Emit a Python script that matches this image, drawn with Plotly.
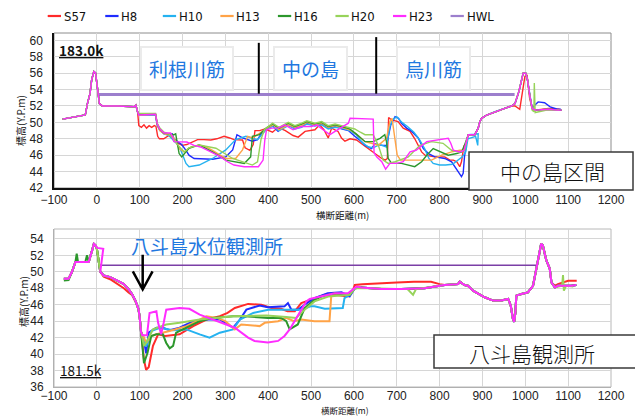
import plotly.graph_objects as go

# ---------------------------------------------------------------------------
# Series definitions
# ---------------------------------------------------------------------------
SERIES = ["S57", "H8", "H10", "H13", "H16", "H20", "H23"]
COLORS = ["#ff2a2a", "#1f2cff", "#25b2f0", "#ffa347", "#2c972c", "#97d35a", "#ff2cff"]
HWL_NAME = "HWL"
HWL_COLOR = "#9c7fcd"
HWL_COLOR_B = "#7b3fa6"

# ---------------------------------------------------------------------------
# Cross section 183.0k  (distance m, elevation Y.P.m)
# ---------------------------------------------------------------------------
BANK_L_183 = [(-80, 50.4), (-60, 50.6), (-40, 50.8), (-27, 50.9), (-22, 52.3), (-16, 53.5),
              (-12, 55.2), (-7, 56.2), (-3, 56.0), (1, 54.4), (6, 52.3), (13, 52.0), (50, 52.0),
              (87, 51.9), (91, 52.1), (95, 51.3)]
BANK_R_183 = [(867, 48.5), (882, 48.5), (890, 49.3), (894, 50.1), (898, 50.5), (910, 50.9),
              (929, 51.3), (952, 51.7), (968, 52.0)]
DIKE_R_183 = [(976, 52.3), (985, 53.75), (995, 56.0), (1001, 56.0), (1005, 55.2), (1011, 53.1),
              (1016, 51.7), (1023, 51.5), (1054, 51.6), (1075, 51.5), (1085, 51.5)]

S57_183 = [(98, 49.6), (104, 49.4), (110, 49.7), (116, 49.3), (122, 49.6), (128, 49.4), (134, 49.6),
           (138, 49.5), (142, 48.3), (146, 48.0), (156, 48.0), (168, 48.4), (176, 48.2), (180, 47.7),
           (190, 47.4), (199, 47.2), (210, 47.3), (219, 47.5), (235, 47.9), (250, 47.9), (266, 47.85),
           (280, 48.0), (297, 48.3), (310, 48.1), (320, 47.9), (340, 47.85), (346, 46.9), (357, 46.6),
           (365, 47.3), (369, 49.0), (380, 49.0), (392, 49.2), (400, 49.0), (410, 48.8), (423, 49.4),
           (440, 49.0), (458, 48.4), (470, 48.2), (486, 48.9), (509, 49.1), (520, 49.7), (530, 49.1),
           (540, 48.1), (548, 49.3), (563, 48.9), (571, 48.1), (579, 47.7), (591, 48.0), (606, 47.85),
           (622, 47.2), (634, 46.8), (649, 46.2), (665, 45.6), (673, 45.4), (678, 45.6), (681, 50.6),
           (688, 50.3), (703, 50.1), (715, 49.3), (731, 48.9), (742, 48.0), (750, 47.2), (758, 46.4),
           (766, 46.0), (789, 45.8), (812, 45.8), (824, 45.4), (832, 45.4), (840, 45.2), (847, 44.6),
           (851, 45.2), (857, 47.2), (860, 46.6), (864, 47.9)]
S57_183_R = [(976, 52.0), (987, 51.6), (993, 53.75), (999, 55.6), (1004, 55.8), (1010, 53.0),
             (1016, 51.7), (1023, 51.5), (1054, 51.7), (1080, 51.6)]

H8_183 = [(98, 50.9), (120, 50.9), (137, 50.9), (141, 49.7), (147, 49.1), (157, 48.6), (168, 48.5),
          (176, 48.6), (180, 48.0), (190, 47.6), (198, 47.3), (208, 46.6), (215, 46.0), (227, 45.6),
          (250, 45.5), (270, 45.5), (301, 45.8), (317, 46.65), (327, 48.5), (340, 48.1), (363, 47.7),
          (375, 47.9), (387, 48.9), (400, 49.3), (410, 49.6), (423, 48.9), (435, 49.4), (447, 49.7),
          (462, 49.3), (478, 49.5), (490, 49.9), (509, 49.6), (525, 49.8), (540, 49.3), (556, 49.5),
          (571, 49.2), (587, 49.0), (602, 48.3), (618, 47.65), (626, 47.2), (641, 46.8), (649, 47.4),
          (665, 47.2), (676, 47.2), (686, 49.7), (696, 50.7), (704, 50.5), (711, 49.9), (723, 49.3),
          (735, 48.9), (750, 48.1), (762, 46.8), (774, 46.2), (789, 45.8), (812, 45.6), (828, 45.2),
          (836, 44.6), (844, 44.0), (851, 43.4), (855, 43.8), (858, 45.8), (864, 48.0)]
H8_183_R = [(976, 52.3), (985, 53.75), (995, 56.0), (1001, 56.0), (1005, 55.2), (1011, 53.1),
            (1016, 51.7), (1022, 52.1), (1030, 52.5), (1045, 52.4), (1058, 51.9), (1075, 51.6),
            (1083, 51.6)]

H10_183 = [(98, 50.9), (137, 50.9), (141, 49.6), (147, 49.0), (157, 48.6), (168, 48.4), (177, 47.9),
           (190, 47.2), (196, 46.6), (208, 45.0), (215, 44.6), (239, 44.8), (270, 45.6), (301, 46.65),
           (324, 47.9), (348, 48.3), (375, 47.9), (395, 49.1), (410, 49.5), (425, 49.0), (447, 49.6),
           (462, 49.2), (478, 49.4), (490, 49.8), (509, 49.6), (525, 49.7), (540, 49.2), (556, 49.4),
           (571, 49.3), (590, 49.0), (605, 48.5), (620, 47.5), (634, 47.0), (645, 46.9), (660, 47.3),
           (676, 47.0), (684, 49.5), (690, 50.3), (700, 50.7), (712, 50.0), (725, 49.5), (740, 48.8),
           (752, 48.0), (765, 46.8), (775, 45.6), (785, 45.0), (800, 44.8), (814, 44.8), (830, 44.9),
           (853, 45.8), (861, 46.4), (866, 48.0), (884, 48.3), (889, 47.2), (890, 48.6)]

H13_183 = [(98, 50.9), (137, 51.0), (141, 49.7), (147, 49.0), (157, 48.6), (168, 48.5), (176, 48.4),
           (183, 47.8), (192, 46.8), (204, 46.4), (220, 47.0), (239, 47.25), (255, 47.0), (270, 46.6),
           (301, 45.6), (324, 45.6), (340, 46.65), (352, 48.3), (363, 48.1), (387, 48.9), (400, 49.4),
           (412, 49.7), (425, 49.1), (447, 49.7), (462, 49.4), (478, 49.6), (490, 50.0), (509, 49.7),
           (525, 49.9), (540, 49.4), (556, 49.6), (571, 49.4), (590, 49.1), (605, 48.6), (626, 47.65),
           (645, 47.4), (657, 47.2), (676, 48.06), (684, 50.1), (689, 50.5), (695, 48.0), (701, 46.0),
           (709, 45.4), (740, 45.4), (781, 45.4), (805, 46.0), (828, 46.4), (847, 46.6), (858, 46.6),
           (864, 48.0)]

H16_183 = [(98, 51.0), (137, 51.0), (141, 49.8), (147, 49.2), (157, 48.7), (168, 48.6), (180, 48.5),
           (184, 48.6), (188, 47.5), (192, 46.2), (198, 45.8), (215, 46.85), (239, 47.25), (270, 46.4),
           (301, 45.4), (344, 45.0), (359, 45.8), (363, 48.3), (379, 48.5), (395, 49.3), (410, 49.8),
           (425, 49.3), (447, 49.9), (462, 49.5), (478, 49.8), (490, 50.1), (509, 49.8), (525, 50.0),
           (540, 49.5), (556, 49.7), (571, 49.5), (590, 49.2), (605, 48.6), (626, 47.65), (645, 47.65),
           (661, 48.06), (672, 48.5), (676, 47.65), (680, 45.6), (688, 45.0), (711, 45.0), (742, 44.6),
           (758, 45.2), (770, 46.0), (785, 46.8), (801, 46.4), (820, 46.0), (840, 46.2), (851, 46.4),
           (858, 47.2), (864, 48.0)]

H20_183 = [(98, 51.1), (137, 51.1), (141, 49.9), (147, 49.3), (157, 48.8), (168, 48.6), (180, 47.9),
           (192, 47.05), (204, 46.4), (215, 46.9), (239, 47.25), (278, 46.85), (317, 45.6), (363, 44.8),
           (375, 45.2), (383, 47.9), (391, 49.1), (410, 49.9), (425, 49.4), (447, 50.0), (462, 49.6),
           (478, 49.9), (490, 50.2), (509, 49.9), (525, 50.1), (540, 49.6), (556, 49.8), (571, 49.6),
           (590, 49.4), (602, 49.2), (615, 48.8), (626, 48.5), (645, 48.5), (657, 47.2), (668, 45.4),
           (680, 45.0), (696, 45.2), (727, 45.8), (754, 47.2), (781, 47.65), (808, 47.45), (828, 46.6),
           (845, 46.4), (858, 46.6), (864, 48.0)]
H20_183_R = [(976, 52.3), (985, 53.75), (995, 56.0), (1001, 56.0), (1005, 55.2), (1011, 53.1),
             (1016, 51.5), (1020, 51.3), (1021, 54.8), (1023, 51.2), (1050, 51.5), (1080, 51.5)]

H23_183 = [(98, 50.9), (137, 51.0), (141, 49.8), (147, 49.2), (157, 48.7), (172, 48.7), (176, 48.3),
           (180, 47.65), (196, 47.65), (210, 47.6), (227, 47.2), (242, 47.0), (266, 46.4), (289, 45.8),
           (305, 45.2), (320, 44.8), (344, 44.6), (377, 44.6), (388, 45.4), (392, 47.85), (396, 49.1),
           (408, 49.3), (423, 49.3), (439, 49.7), (458, 49.1), (478, 49.5), (501, 49.5), (513, 49.7),
           (528, 49.1), (544, 48.5), (556, 48.9), (575, 49.5), (587, 49.9), (591, 50.5), (645, 50.4),
           (647, 46.3), (653, 45.8), (665, 45.2), (674, 44.3), (684, 45.0), (700, 45.0), (715, 45.2),
           (731, 46.4), (745, 46.6), (762, 47.3), (770, 47.65), (820, 48.06), (826, 47.45), (832, 46.6),
           (847, 46.4), (857, 46.6), (864, 48.0)]

HWL_183 = [(4, 53.4), (975, 53.4)]

# ---------------------------------------------------------------------------
# Cross section 181.5k
# ---------------------------------------------------------------------------
BANK_L_181 = [(-77, 49.15), (-66, 49.15), (-58, 50.0), (-50, 51.2), (-42, 51.2), (-27, 51.2),
              (-19, 51.2), (-11, 52.6), (-7, 53.4), (-3, 53.2), (0, 52.8), (8, 50.0), (16, 49.55),
              (31, 49.35), (47, 48.95), (63, 48.5), (74, 47.9), (82, 47.3), (90, 46.5), (97, 45.5),
              (100, 44.5), (103, 42.7)]
FLOOD_181 = [(617, 48.1), (664, 47.9), (711, 47.9), (765, 48.0), (800, 48.3), (812, 48.4), (843, 48.5),
             (847, 48.8), (858, 48.4)]
BANK_R_181 = [(866, 48.3), (878, 47.7), (890, 47.3), (905, 46.9), (925, 46.5), (944, 46.5), (960, 46.7),
              (966, 45.9), (971, 44.3), (974, 43.9), (977, 45.1), (979, 47.1), (991, 47.3), (1006, 47.5),
              (1018, 48.3), (1026, 50.4), (1032, 52.2), (1037, 53.4), (1041, 53.2), (1049, 51.4),
              (1057, 50.4), (1061, 48.7), (1069, 48.1), (1076, 48.3), (1107, 48.3), (1119, 48.4)]

S57_181_L = [(-77, 49.15), (-66, 49.15), (-58, 50.0), (-50, 51.2), (-27, 51.2), (-19, 51.2), (-11, 52.6),
             (-7, 53.4), (-3, 53.2), (0, 52.8), (8, 50.0), (16, 49.4), (31, 49.1), (47, 48.6), (63, 48.0),
             (74, 47.5), (82, 47.2), (90, 46.4), (97, 45.5), (100, 44.5), (103, 42.7)]
S57_181 = [(110, 39.3), (115, 38.1), (121, 38.4), (131, 41.0), (143, 42.4), (160, 42.2), (193, 42.4),
           (225, 43.4), (256, 44.2), (287, 44.6), (305, 45.0), (322, 45.6), (353, 46.1), (384, 46.0),
           (407, 45.6), (430, 45.5), (445, 45.2), (462, 45.2), (477, 46.2), (500, 46.6), (532, 47.2),
           (555, 47.2), (586, 47.0), (598, 47.8), (602, 48.4), (620, 48.5), (650, 48.6), (700, 48.7),
           (740, 48.8), (780, 48.8), (800, 48.5), (812, 48.4), (843, 48.5), (847, 48.8), (858, 48.4)]
S57_181_R = [(866, 48.3), (878, 47.7), (890, 47.3), (905, 46.9), (925, 46.5), (944, 46.5), (960, 46.7),
             (966, 45.9), (971, 44.3), (974, 44.0), (977, 45.1), (979, 47.1), (991, 47.3), (1006, 47.5),
             (1018, 48.3), (1026, 50.4), (1032, 52.2), (1037, 53.3), (1041, 53.2), (1049, 51.4),
             (1057, 50.4), (1061, 48.7), (1069, 48.3), (1076, 48.5), (1100, 48.9), (1120, 48.9)]

H8_181 = [(109, 42.0), (115, 40.1), (121, 42.6), (139, 43.2), (154, 43.2), (170, 42.9), (193, 43.2),
          (225, 44.0), (256, 44.2), (287, 44.2), (318, 43.2), (334, 44.2), (349, 45.4), (361, 45.6),
          (380, 45.9), (399, 45.7), (438, 45.8), (446, 46.2), (454, 45.4), (470, 45.4), (485, 46.0),
          (508, 46.8), (539, 47.4), (571, 47.5), (590, 47.0), (602, 48.0)]

H10_181 = [(110, 41.5), (115, 40.9), (127, 42.8), (147, 43.2), (178, 42.9), (209, 43.0), (240, 42.4),
           (263, 42.0), (287, 42.6), (318, 43.0), (334, 44.2), (349, 44.6), (365, 45.0), (400, 45.4),
           (440, 45.4), (477, 45.4), (499, 45.8), (508, 45.8), (532, 45.5), (574, 45.6), (578, 46.8),
           (590, 47.2), (602, 48.0)]

H13_181 = [(110, 42.0), (115, 41.35), (127, 42.2), (139, 42.4), (170, 42.8), (209, 43.4), (256, 44.6),
           (280, 44.4), (300, 44.0), (322, 43.0), (337, 43.6), (380, 43.4), (392, 43.8), (423, 44.0),
           (442, 44.4), (460, 44.0), (477, 44.2), (508, 44.0), (543, 44.0), (547, 47.0), (560, 47.3),
           (590, 47.2), (602, 48.0)]

H16_181_L = [(-77, 48.95), (-66, 49.0), (-58, 50.0), (-50, 51.2), (-47, 52.2), (-44, 51.2), (-27, 51.2),
             (-23, 52.0), (-19, 51.2), (-11, 52.6), (-7, 53.4), (-3, 53.2), (0, 52.8), (8, 50.0),
             (16, 49.55), (31, 49.35), (47, 48.95), (63, 48.5), (74, 47.9), (82, 47.3), (90, 46.5),
             (97, 45.5), (100, 44.5), (103, 42.7)]
H16_181 = [(110, 38.9), (118, 40.1), (127, 42.2), (139, 42.4), (154, 42.4), (162, 41.35), (170, 40.7),
           (178, 41.0), (185, 42.6), (209, 43.2), (240, 44.0), (271, 44.4), (318, 44.6), (345, 44.6),
           (399, 44.4), (430, 44.4), (442, 44.0), (450, 43.0), (469, 43.6), (485, 45.6), (508, 46.6),
           (524, 47.0), (555, 47.4), (590, 47.2), (602, 48.0)]

H20_181 = [(110, 41.0), (115, 41.35), (131, 43.0), (162, 43.6), (193, 43.8), (240, 44.2), (318, 44.6),
           (396, 44.7), (442, 44.5), (465, 44.4), (485, 45.4), (508, 46.4), (540, 47.0), (590, 47.2),
           (602, 48.0), (640, 48.0), (700, 47.9), (725, 47.9), (738, 47.2), (745, 47.9), (800, 48.3),
           (812, 48.4), (843, 48.5), (847, 48.8), (858, 48.4)]
H20_181_R = [(866, 48.3), (878, 47.7), (890, 47.3), (905, 46.9), (925, 46.5), (944, 46.5), (960, 46.7),
             (966, 45.9), (971, 44.3), (974, 43.9), (977, 45.1), (979, 47.1), (991, 47.3), (1006, 47.5),
             (1018, 48.3), (1026, 50.4), (1032, 52.2), (1037, 53.4), (1041, 53.2), (1049, 51.4),
             (1057, 50.4), (1061, 48.7), (1069, 48.1), (1080, 48.2), (1086, 48.3), (1088, 49.6),
             (1090, 47.7), (1095, 48.3), (1112, 48.2)]

H23_181_L = [(-77, 49.15), (-66, 49.15), (-58, 50.0), (-50, 51.2), (-27, 51.2), (-19, 51.2), (-11, 52.6),
             (-7, 53.4), (-3, 53.2), (1, 52.9), (15, 52.8), (8, 50.0), (16, 49.55), (31, 49.35),
             (47, 48.95), (63, 48.5), (74, 47.9), (82, 47.3), (90, 46.5), (97, 45.5), (100, 44.5),
             (103, 42.7)]
H23_181 = [(106, 42.3), (117, 42.3), (123, 45.0), (139, 45.2), (143, 43.8), (150, 42.4), (156, 43.8),
           (162, 45.4), (193, 45.6), (216, 45.5), (240, 44.8), (271, 44.2), (302, 43.6), (322, 43.2),
           (353, 42.0), (368, 41.6), (399, 41.4), (423, 41.6), (438, 42.2), (450, 43.0), (466, 44.4),
           (477, 45.4), (489, 46.4), (497, 46.7), (524, 47.0), (555, 47.4), (586, 47.4), (598, 47.9),
           (606, 48.2)]

HWL_181 = [(4, 50.8), (1028, 50.8)]

# ---------------------------------------------------------------------------
# Assembled profiles, in legend order
# ---------------------------------------------------------------------------
PROFILES_183 = [
    BANK_L_183 + S57_183 + BANK_R_183 + S57_183_R,
    BANK_L_183 + H8_183 + BANK_R_183 + H8_183_R,
    BANK_L_183 + H10_183 + BANK_R_183 + DIKE_R_183,
    BANK_L_183 + H13_183 + BANK_R_183 + DIKE_R_183,
    BANK_L_183 + H16_183 + BANK_R_183 + DIKE_R_183,
    BANK_L_183 + H20_183 + BANK_R_183 + H20_183_R,
    BANK_L_183 + H23_183 + BANK_R_183 + DIKE_R_183,
]
PROFILES_181 = [
    S57_181_L + S57_181 + S57_181_R,
    BANK_L_181 + H8_181 + FLOOD_181 + BANK_R_181,
    BANK_L_181 + H10_181 + FLOOD_181 + BANK_R_181,
    BANK_L_181 + H13_181 + FLOOD_181 + BANK_R_181,
    H16_181_L + H16_181 + FLOOD_181 + BANK_R_181,
    BANK_L_181 + H20_181 + H20_181_R,
    H23_181_L + H23_181 + FLOOD_181 + BANK_R_181,
]

# ---------------------------------------------------------------------------
# Figure
# ---------------------------------------------------------------------------
W, H = 635, 416
JP = "Noto Sans CJK JP"
NUM = "Liberation Sans, Arial, sans-serif"
NARROW = "Liberation Sans Narrow, DejaVu Sans Condensed, Liberation Sans, sans-serif"
BLUE_TEXT = "#1f78e0"


def px(x):
    return x / W


def py(y):
    return 1 - y / H


fig = go.Figure()


def add_profile(pts, color, width, xa, ya):
    fig.add_trace(go.Scatter(
        x=[p[0] for p in pts], y=[p[1] for p in pts], mode="lines",
        line=dict(color=color, width=width), xaxis=xa, yaxis=ya,
        showlegend=False, hoverinfo="skip"))


add_profile(HWL_183, HWL_COLOR, 3, "x", "y")
for pts, col in zip(PROFILES_183, COLORS):
    add_profile(pts, col, 1.4, "x", "y")

add_profile(HWL_181, HWL_COLOR_B, 1.6, "x2", "y2")
for pts, col in zip(PROFILES_181, COLORS):
    add_profile(pts, col, 2.0, "x2", "y2")

XDOM = [px(54), px(611)]
axis_common = dict(range=[-100, 1200], dtick=100, tick0=0, showgrid=True, gridcolor="#d6d6d6",
                   gridwidth=1, zeroline=False, ticks="", automargin=False,
                   tickfont=dict(family=NUM, size=12, color="#222"),
                   domain=XDOM)
yaxis_common = dict(dtick=2, showgrid=True, gridcolor="#d6d6d6", gridwidth=1, zeroline=False,
                    ticks="outside", ticklen=7, tickcolor="rgba(0,0,0,0)", automargin=False,
                    tickfont=dict(family=NUM, size=12, color="#222"))

fig.update_layout(
    width=W, height=H, margin=dict(l=0, r=0, t=0, b=0, autoexpand=False),
    paper_bgcolor="white", plot_bgcolor="white", showlegend=False,
    xaxis=dict(**axis_common, anchor="y", showline=True, linecolor="#111", linewidth=1.5),
    yaxis=dict(**yaxis_common, range=[42, 60.9], domain=[py(188), py(33)], anchor="x",
               showline=True, linecolor="#111", linewidth=1.5),
    xaxis2=dict(**axis_common, anchor="y2", showline=True, linecolor="#b0b0b0", linewidth=1,
                ticklabelstandoff=-2),
    yaxis2=dict(**yaxis_common, range=[36, 55.2], domain=[py(387), py(229)], anchor="x2",
                showline=True, linecolor="#b0b0b0", linewidth=1),
)

shapes = []
# plot frames
shapes.append(dict(type="rect", xref="x domain", yref="y domain", x0=0, x1=1, y0=0, y1=1,
                   line=dict(color="#8c8c8c", width=1), layer="below"))
shapes.append(dict(type="rect", xref="x2 domain", yref="y2 domain", x0=0, x1=1, y0=0, y1=1,
                   line=dict(color="#b8b8b8", width=1), layer="below"))
# reach dividers on 183.0k
shapes.append(dict(type="line", xref="x", yref="y", x0=378, x1=378, y0=53.5, y1=59.7,
                   line=dict(color="black", width=2)))
shapes.append(dict(type="line", xref="x", yref="y", x0=652, x1=652, y0=53.5, y1=60.4,
                   line=dict(color="black", width=2)))
# gauging station arrow on 181.5k
shapes.append(dict(type="path", xref="x2", yref="y2",
                   path="M 107,52.06 L 107,47.85 M 84,50.05 L 107,47.85 L 130,50.05",
                   line=dict(color="black", width=2.5)))
# caption boxes
shapes.append(dict(type="rect", xref="paper", yref="paper", x0=px(469), x1=px(633),
                   y0=py(190), y1=py(152), fillcolor="white",
                   line=dict(color="#3a3a3a", width=1.5)))
shapes.append(dict(type="rect", xref="paper", yref="paper", x0=px(434), x1=px(640),
                   y0=py(368), y1=py(335), fillcolor="white",
                   line=dict(color="#3a3a3a", width=1.5)))

# legend row
LEGEND_NAMES = SERIES + [HWL_NAME]
LEGEND_COLORS = COLORS + [HWL_COLOR]
annotations = []
for i, (name, col) in enumerate(zip(LEGEND_NAMES, LEGEND_COLORS)):
    x0 = 47.7 + i * 57.55
    shapes.append(dict(type="line", xref="paper", yref="paper", x0=px(x0), x1=px(x0 + 13.3),
                       y0=py(16), y1=py(16), line=dict(color=col, width=2.2)))
    annotations.append(dict(xref="paper", yref="paper", x=px(x0 + 14), y=py(16.5), text=name,
                            showarrow=False, xanchor="left", yanchor="middle",
                            font=dict(family=NARROW, size=13, color="#111")))


def label(text, x, y, size, color="#111", family=JP, weight=None, **kw):
    font = dict(family=family, size=size, color=color)
    if weight is not None:
        font["weight"] = weight
    annotations.append(dict(xref="paper", yref="paper", x=px(x), y=py(y), text=text,
                            showarrow=False, xanchor="center", yanchor="middle",
                            font=font, **kw))


# 183.0k panel texts
label("<b><u>183.0k</u></b>", 81, 50, 13.5, family=JP)
label("利根川筋", 187, 69, 19, BLUE_TEXT, bgcolor="white", bordercolor="#ebebeb",
      borderwidth=2, borderpad=7)
label("中の島", 310, 69, 19, BLUE_TEXT, bgcolor="white", bordercolor="#ebebeb",
      borderwidth=2, borderpad=7)
label("烏川筋", 433, 69, 19, BLUE_TEXT, bgcolor="white", bordercolor="#ebebeb",
      borderwidth=2, borderpad=7)
label("中の島区間", 552, 171, 21, weight=300)
label("標高(Y.P.m)", 21, 121, 10, textangle=-90)
label("横断距離(m)", 342, 215, 9.5, borderpad=0)

# 181.5k panel texts
label("八斗島水位観測所", 207, 245, 19, BLUE_TEXT)
label("<u>181.5k</u>", 81, 370, 13.5, family=JP)
label("八斗島観測所", 532, 353, 21, weight=300)
label("標高(Y.P.m)", 23, 302, 10, textangle=-90)
label("横断距離(m)", 345, 409.5, 8.5, borderpad=0)

fig.update_layout(shapes=shapes, annotations=annotations)
fig.write_html("out.html")
